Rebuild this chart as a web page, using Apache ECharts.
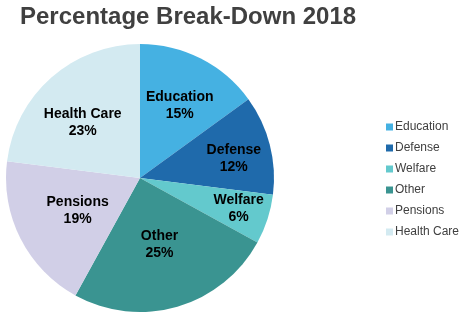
<!DOCTYPE html>
<html>
<head>
<meta charset="utf-8">
<script src="https://cdn.jsdelivr.net/npm/echarts@6/dist/echarts.min.js"></script>
<style>
  html, body { margin: 0; padding: 0; background: #fff; }
  #chart { width: 469px; height: 322px; }
</style>
</head>
<body>
<div id="chart"></div>
<script>
// Budget shares for 2018
const categories = ['Education', 'Defense', 'Welfare', 'Other', 'Pensions', 'Health Care'];
const shares = [15, 12, 6, 25, 19, 23];
const colors = ['#45B1E2', '#1F6AAB', '#63C9CD', '#3A9491', '#D1CFE7', '#D3EAF1'];

// label nudges (dx, dy) so each label sits where it reads best in its slice
const labelNudge = [[8, -10], [26, -2], [32, 9], [0, -1], [0, 1], [-11, -3]];

const chart = echarts.init(document.getElementById('chart'));
chart.setOption({
  animation: false,
  title: {
    text: 'Percentage Break-Down 2018',
    left: 15,
    top: 0,
    textStyle: { fontFamily: 'Liberation Sans, Arial', fontWeight: 'bold', fontSize: 24, color: '#404040' }
  },
  legend: {
    orient: 'vertical',
    left: 381,
    top: 116,
    itemWidth: 7,
    itemHeight: 7,
    itemGap: 9,
    icon: 'rect',
    textStyle: { fontFamily: 'Liberation Sans, Arial', fontSize: 12, color: '#404040', padding: [0, 0, 0, -3] },
    data: categories
  },
  series: [{
    type: 'pie',
    center: [140, 178],
    radius: 134,
    startAngle: 90,
    clockwise: true,
    silent: true,
    label: {
      show: true,
      position: 'inside',
      formatter: '{b}\n{c}%',
      fontFamily: 'Liberation Sans, Arial',
      fontWeight: 'bold',
      fontSize: 14,
      lineHeight: 17,
      color: '#000'
    },
    labelLayout: function (p) {
      const n = labelNudge[p.dataIndex];
      return { dx: n[0], dy: n[1] };
    },
    itemStyle: { borderWidth: 0 },
    data: categories.map((name, i) => ({ name: name, value: shares[i], itemStyle: { color: colors[i] } }))
  }]
});
</script>
</body>
</html>
